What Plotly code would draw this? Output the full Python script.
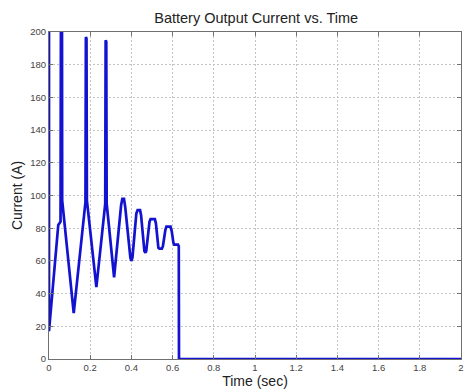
import plotly.graph_objects as go

time_s = [0.0, 0.0, 0.045, 0.056, 0.058, 0.063, 0.064, 0.12,
          0.177, 0.179, 0.182, 0.184, 0.23,
          0.273, 0.275, 0.278, 0.280, 0.316,
          0.350, 0.356, 0.364, 0.370, 0.395, 0.400, 0.405,
          0.424, 0.430, 0.442, 0.447, 0.463, 0.468, 0.472,
          0.488, 0.493, 0.514, 0.519, 0.531, 0.536, 0.548, 0.553,
          0.565, 0.570, 0.590, 0.596, 0.604, 0.608, 0.626, 0.630, 0.631, 2.0]
current_a = [215, 17, 82, 84, 215, 215, 97, 28,
             96, 197, 196, 97, 44,
             95, 195, 194, 95, 50,
             94, 98, 98, 93, 62, 60, 62,
             89, 91, 91, 88, 66, 65, 66,
             84, 85.5, 85.5, 83, 68, 67.5, 67.5, 69,
             79, 81, 81, 78, 71, 70, 70, 69, 0, 0]

x_ticks = [0, 0.2, 0.4, 0.6, 0.8, 1, 1.2, 1.4, 1.6, 1.8, 2]
x_tick_text = ["0", "0.2", "0.4", "0.6", "0.8", "1", "1.2", "1.4", "1.6", "1.8", "2"]
y_ticks = [0, 20, 40, 60, 80, 100, 120, 140, 160, 180, 200]

FONT = "Liberation Sans, Arial, sans-serif"

fig = go.Figure()
fig.add_trace(go.Scatter(x=time_s, y=current_a, mode="lines",
                         line=dict(color="#1212d0", width=2.7),
                         showlegend=False, hoverinfo="skip"))

axis_common = dict(
    showline=True, linecolor="#707070", linewidth=1, mirror="ticks",
    ticks="inside", ticklen=4, tickcolor="#707070",
    showgrid=True, gridcolor="#c4c4c4", griddash="2px,2px", gridwidth=1,
    zeroline=False, ticklabeloverflow="allow",
    tickfont=dict(family=FONT, size=9.5, color="#444444"),
)

fig.update_layout(
    width=465, height=390,
    margin=dict(l=49, r=1, t=32, b=31),
    paper_bgcolor="white", plot_bgcolor="white",
    title=dict(text="Battery Output Current vs. Time", x=0.551, xanchor="center",
               y=1 - 18 / 390, yanchor="middle", yref="container",
               font=dict(family=FONT, size=14.5, color="#222222")),
    xaxis=dict(range=[0, 2], tickvals=x_ticks, ticktext=x_tick_text,
               title=dict(text="Time (sec)", standoff=2,
                          font=dict(family=FONT, size=14, color="#222222")),
               **axis_common),
    yaxis=dict(range=[0, 200], tickvals=y_ticks,
               title=dict(text="Current (A)", standoff=4,
                          font=dict(family=FONT, size=14, color="#222222")),
               **axis_common),
)

fig.write_html("out.html")
